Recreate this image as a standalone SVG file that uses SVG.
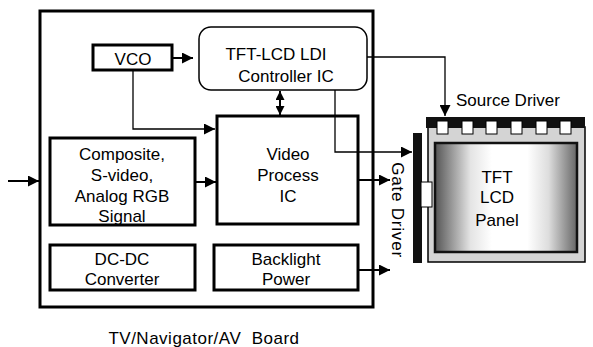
<svg xmlns="http://www.w3.org/2000/svg" width="593" height="347" viewBox="0 0 593 347">
<style>
text{font-family:"Liberation Sans",Arial,sans-serif;font-size:17px;fill:#000;text-anchor:middle}
.box{fill:#fff;stroke:#000;stroke-width:3}
.thin{fill:none;stroke:#000;stroke-width:1.3}
.mid{fill:none;stroke:#000;stroke-width:2}
</style>
<defs>
<marker id="ah" viewBox="0 0 10 10" refX="10" refY="5" markerWidth="10" markerHeight="9" markerUnits="userSpaceOnUse" orient="auto-start-reverse">
<path d="M0,0 L10,5 L0,10 Z" fill="#000"/>
</marker>
<marker id="ahs" viewBox="0 0 10 10" refX="10" refY="5" markerWidth="12" markerHeight="11" markerUnits="userSpaceOnUse" orient="auto-start-reverse">
<path d="M0,0 L10,5 L0,10 Z" fill="#000"/>
</marker>
<linearGradient id="pg" x1="0" y1="0" x2="1" y2="0">
<stop offset="0" stop-color="#555"/>
<stop offset="0.25" stop-color="#e4e4e4"/>
<stop offset="0.4" stop-color="#fff"/>
<stop offset="0.65" stop-color="#fff"/>
<stop offset="0.8" stop-color="#ddd"/>
<stop offset="1" stop-color="#666"/>
</linearGradient>
</defs>
<g id="board">
<rect x="40" y="11" width="333" height="296" fill="none" stroke="#000" stroke-width="3"/>
<text x="204" y="344" font-size="18" letter-spacing="0.5" style="white-space:pre">TV/Navigator/AV  Board</text>
</g>
<g id="vco">
<rect class="box" x="93" y="45" width="79" height="25"/>
<text x="133" y="65">VCO</text>
</g>
<g id="controller">
<rect x="199" y="27" width="168" height="63" rx="12" fill="#fff" stroke="#000" stroke-width="1.5"/>
<text x="276" y="60">TFT-LCD LDI</text>
<text x="286" y="82">Controller IC</text>
</g>
<g id="video">
<rect class="box" x="217" y="116" width="141" height="108"/>
<text x="288" y="160">Video</text>
<text x="288" y="181">Process</text>
<text x="288" y="202">IC</text>
</g>
<g id="composite">
<rect class="box" x="50" y="138" width="145" height="87"/>
<text x="122" y="160">Composite,</text>
<text x="122" y="181">S-video,</text>
<text x="122" y="202">Analog RGB</text>
<text x="122" y="222">Signal</text>
</g>
<g id="dcdc">
<rect class="box" x="50" y="245" width="145" height="45"/>
<text x="122" y="265">DC-DC</text>
<text x="122" y="285">Converter</text>
</g>
<g id="backlight">
<rect class="box" x="214" y="245" width="144" height="45"/>
<text x="286" y="265">Backlight</text>
<text x="286" y="285">Power</text>
</g>
<g id="panel">
<rect x="428" y="127" width="157" height="135" fill="#d4d4d4" stroke="#000" stroke-width="1.5"/>
<rect x="435" y="143" width="142" height="109" fill="url(#pg)" stroke="#111" stroke-width="2.5"/>
<text x="497" y="183">TFT</text>
<text x="497" y="203">LCD</text>
<text x="497" y="226">Panel</text>
</g>
<g id="source-driver">
<rect x="426" y="117" width="159" height="11" fill="#111"/>
<g fill="#fff" stroke="#000" stroke-width="1">
<rect x="437" y="121" width="11" height="13"/>
<rect x="462" y="121" width="11" height="13"/>
<rect x="486" y="121" width="11" height="13"/>
<rect x="511" y="121" width="11" height="13"/>
<rect x="536" y="121" width="11" height="13"/>
<rect x="560" y="121" width="11" height="13"/>
</g>
<text x="508" y="106" font-size="16">Source Driver</text>
</g>
<g id="gate-driver">
<rect x="413" y="133" width="9" height="130" fill="#111"/>
<rect x="421" y="182" width="11" height="25" fill="#fff" stroke="#000" stroke-width="1"/>
<text x="0" y="0" font-size="16" letter-spacing="0.8" transform="translate(392,210) rotate(90)">Gate Driver</text>
</g>
<g id="connectors">
<line class="mid" x1="8" y1="181" x2="39" y2="181" marker-end="url(#ahs)"/>
<line class="mid" x1="172" y1="58" x2="193" y2="58" marker-end="url(#ahs)"/>
<path class="thin" d="M133,70 V129 H215" marker-end="url(#ahs)"/>
<line class="mid" x1="195" y1="182" x2="216" y2="182" marker-end="url(#ahs)"/>
<line class="mid" x1="280" y1="91" x2="280" y2="115" marker-start="url(#ah)" marker-end="url(#ah)"/>
<line class="mid" x1="358" y1="180" x2="390" y2="180" marker-end="url(#ahs)"/>
<line class="mid" x1="358" y1="270" x2="390" y2="270" marker-end="url(#ahs)"/>
<path class="thin" d="M367,57 H445 V116" marker-end="url(#ahs)"/>
<path class="thin" d="M335,90 V152 H412" marker-end="url(#ahs)"/>
</g>
</svg>
